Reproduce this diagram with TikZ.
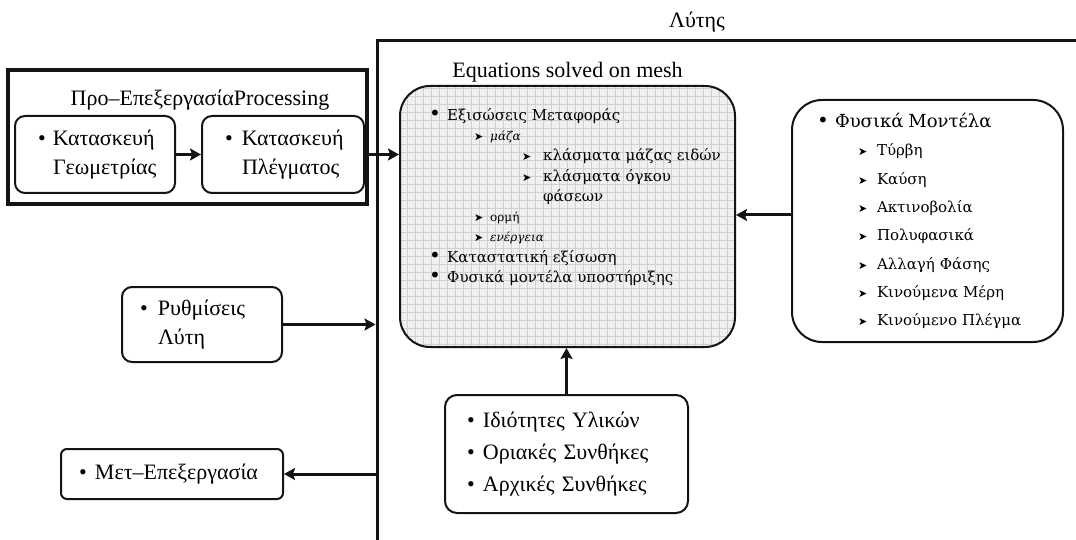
\documentclass[tikz,border=0pt]{standalone}
\usepackage{fontspec}
\setmainfont{Liberation Serif}
\newfontfamily\meshfont{DejaVu Serif}
\newfontfamily\symfont{DejaVu Sans}
\usetikzlibrary{arrows.meta, positioning}
\hfuzz=60pt
\definecolor{inkline}{RGB}{20, 20, 20}
\definecolor{meshfill}{RGB}{240, 240, 240}
\definecolor{meshrule}{RGB}{208, 208, 208}
\newcommand{\bulmark}[1]{\makebox[#1][l]{•}}
\newcommand{\bigbul}[1]{\makebox[#1][l]{{\fontsize{20}{20}\selectfont •}}}
\newcommand{\arrmark}[1]{\makebox[#1][l]{{\symfont\fontsize{11}{11}\selectfont ➤}}}
\tikzset{
  solverframe/.style={draw=inkline, line width=3pt, inner sep=0pt},
  preframe/.style={draw=inkline, line width=3.2pt, inner sep=0pt},
  stepbox/.style={
    draw=inkline, line width=2pt, rounded corners=10pt,
    font=\fontsize{22}{29}\selectfont, align=left, inner ysep=0pt
  },
  meshbox/.style={
    draw=inkline, line width=2pt, rounded corners=30pt, fill=meshfill,
    path picture={\draw[meshrule, line width=0.5pt]
      (path picture bounding box.south west) grid[step=8pt]
      (path picture bounding box.north east);}
  },
  physbox/.style={
    draw=inkline, line width=2pt, rounded corners=30pt,
    font=\meshfont\fontsize{15}{28.3}\selectfont, align=left, inner ysep=0pt
  },
  meshlist/.style={font=\meshfont\fontsize{15}{20.25}\selectfont,
                   align=left, inner sep=0pt},
  heading/.style={font=\fontsize{22}{26}\selectfont, inner sep=0pt},
  flow/.style={-{Stealth[length=11pt, width=12pt, inset=2pt]},
               line width=3pt, draw=inkline},
}

\begin{document}
\begin{tikzpicture}[x=1pt, y=-1pt]
  \useasboundingbox (0,0) rectangle (1076,540);
  \clip (0,0) rectangle (1076,540);

  % ---- solver frame (runs off the page) ----
  \node[solverframe, minimum width=723pt, minimum height=530pt]
    (solver) at (738.5,306) {};
  \node[heading] (solvertitle) at (697,22) {Λύτης};

  % ---- pre-processing ----
  \node[preframe, minimum width=359pt, minimum height=134pt]
    (pre) at (187.5,137) {};
  \node[heading] (pretitle) at (200,100) {Προ–ΕπεξεργασίαProcessing};
  \node[stepbox, text width=114pt, inner xsep=23pt, minimum height=77pt]
    (geo) at (95,154.5) {\bulmark{15pt}Κατασκευή\\\hspace*{15pt}Γεωμετρίας};
  \node[stepbox, text width=116pt, inner xsep=23pt, minimum height=77pt,
        right=25pt of geo]
    (mshgen) {\bulmark{17pt}Κατασκευή\\\hspace*{17pt}Πλέγματος};

  % ---- equations on mesh ----
  \node[meshbox, minimum width=335pt, minimum height=261pt]
    (mesh) at (567.5,216.5) {};
  \node[heading, above=3pt of mesh] (meshtitle) {Equations solved on mesh};
  \node[meshlist, anchor=west] (eqlist) at (429,197) {%
    \bigbul{18pt}Εξισώσεις Μεταφοράς\\
    \hspace*{45pt}\arrmark{16pt}{\itshape\fontsize{12}{12}\selectfont μάζα}\\
    \hspace*{93pt}\arrmark{21pt}κλάσματα μάζας ειδών\\
    \hspace*{93pt}\arrmark{21pt}κλάσματα όγκου\\
    \hspace*{114pt}φάσεων\\
    \hspace*{45pt}\arrmark{16pt}{\fontsize{12}{12}\selectfont ορμή}\\
    \hspace*{45pt}\arrmark{16pt}{\itshape\fontsize{12}{12}\selectfont ενέργεια}\\
    \bigbul{18pt}Καταστατική εξίσωση\\
    \bigbul{18pt}Φυσικά μοντέλα υποστήριξης};

  % ---- physical models ----
  \node[physbox, text width=221pt, inner xsep=25pt, minimum height=242pt]
    (phys) at (927.5,221) {%
    {\fontsize{18}{28.3}\selectfont\bigbul{18pt}Φυσικά Μοντέλα}\\
    \hspace*{41pt}\arrmark{19pt}Τύρβη\\
    \hspace*{41pt}\arrmark{19pt}Καύση\\
    \hspace*{41pt}\arrmark{19pt}Ακτινοβολία\\
    \hspace*{41pt}\arrmark{19pt}Πολυφασικά\\
    \hspace*{41pt}\arrmark{19pt}Αλλαγή Φάσης\\
    \hspace*{41pt}\arrmark{19pt}Κινούμενα Μέρη\\
    \hspace*{41pt}\arrmark{19pt}Κινούμενο Πλέγμα};

  % ---- solver settings, post-processing, conditions ----
  \node[stepbox, text width=124pt, inner xsep=18pt, minimum height=75pt]
    (settings) at (202,324.5) {\bulmark{18pt}Ρυθμίσεις\\\hspace*{18pt}Λύτη};
  \node[stepbox, rounded corners=6pt, text width=186pt, inner xsep=18pt,
        minimum height=50pt]
    (post) at (172,474) {\bulmark{16pt}Μετ–Επεξεργασία};
  \node[stepbox, rounded corners=12pt, font=\fontsize{22}{32}\selectfont,
        text width=199pt, inner xsep=22pt, minimum height=118pt]
    (cond) at (566.5,454) {\bulmark{16pt}Ιδιότητες Υλικών\\
                           \bulmark{16pt}Οριακές Συνθήκες\\
                           \bulmark{16pt}Αρχικές Συνθήκες};

  % ---- connectors ----
  \draw[flow] (geo) -- (mshgen);
  \draw[flow] (mshgen.east) -- (mshgen.east -| mesh.west);
  \draw[flow] ([yshift=6pt]phys.west) -- ([yshift=6pt]phys.west -| mesh.east);
  \draw[flow] (cond.north) -- (cond.north |- mesh.south);
  \draw[flow] (settings.east) -- (settings.east -| solver.west);
  \draw[flow] (post.east -| solver.west) -- (post.east);

\end{tikzpicture}
\end{document}
